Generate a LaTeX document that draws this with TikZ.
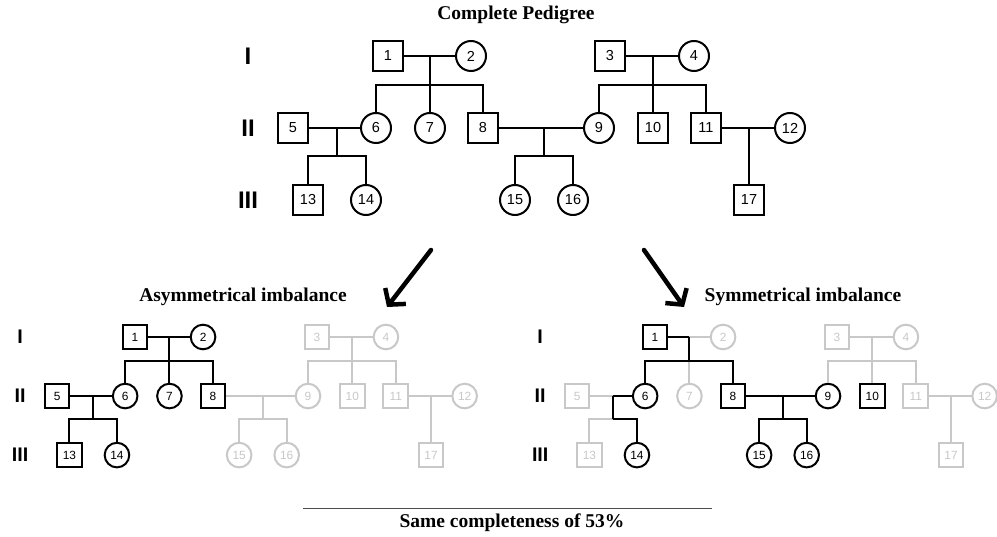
\documentclass[tikz,border=0pt]{standalone}
\usepackage{fontspec}
\setmainfont{Liberation Serif}
\setsansfont{Liberation Sans}
\usetikzlibrary{arrows.meta}
\definecolor{fade}{RGB}{200,200,200}
\newif\iffadepass
\newcommand\fadeset[2]{\foreach \z in {#2}{\expandafter\xdef\csname pg@#1-\z\endcsname{}}}
\tikzset{
  person/.style={draw, line width=2pt, inner sep=0pt, text=black,
    font=\sffamily\fontsize{14.5}{14.5}\selectfont},
  male/.style={person, rectangle, minimum size=30pt},
  female/.style={person, circle, minimum size=30pt},
  ln/.style={line width=2pt},
  gen/.style={font=\sffamily\bfseries\fontsize{24}{24}\selectfont, inner sep=0pt},
  faded/.style={color=fade, text=fade},
  c/.code={\ifcsname pg@#1\endcsname\pgfkeysalso{faded}\fi},
  cl/.code={\ifcsname pg@#1\endcsname
      \iffadepass\pgfkeysalso{faded}\else\pgfkeysalso{draw=none}\fi
    \else
      \iffadepass\pgfkeysalso{draw=none}\fi
    \fi},
  title/.style={font=\bfseries\fontsize{19.5}{20}\selectfont, inner sep=0pt},
  bigarrow/.style={line width=4.5pt, line cap=round, -{Straight Barb[length=11pt,width=26pt]}},
}
\newcommand\pednodes[1]{%
 \node[gen] (#1-gI) at (248,56) {I};
 \node[gen] (#1-gII) at (248,128) {II};
 \node[gen] (#1-gIII) at (248,200) {III};
 \node[male,c=#1-n1] (#1-1) at (388,56) {1};
 \node[female,c=#1-n2] (#1-2) at (471,56) {2};
 \node[male,c=#1-n3] (#1-3) at (610,56) {3};
 \node[female,c=#1-n4] (#1-4) at (694,56) {4};
 \node[male,c=#1-n5] (#1-5) at (293,128) {5};
 \node[female,c=#1-n6] (#1-6) at (376,128) {6};
 \node[female,c=#1-n7] (#1-7) at (430,128) {7};
 \node[male,c=#1-n8] (#1-8) at (483,128) {8};
 \node[female,c=#1-n9] (#1-9) at (599,128) {9};
 \node[male,c=#1-n10] (#1-10) at (653,128) {10};
 \node[male,c=#1-n11] (#1-11) at (706,128) {11};
 \node[female,c=#1-n12] (#1-12) at (790,128) {12};
 \node[male,c=#1-n13] (#1-13) at (308,200) {13};
 \node[female,c=#1-n14] (#1-14) at (366,200) {14};
 \node[female,c=#1-n15] (#1-15) at (515,200) {15};
 \node[female,c=#1-n16] (#1-16) at (573,200) {16};
 \node[male,c=#1-n17] (#1-17) at (749,200) {17};
 \coordinate (#1-m12) at (430,56);
 \coordinate (#1-j12) at (430,85);
 \coordinate (#1-m34) at (653,56);
 \coordinate (#1-j34) at (653,85);
 \coordinate (#1-m56) at (337,128);
 \coordinate (#1-j56) at (337,156);
 \coordinate (#1-m89) at (544,128);
 \coordinate (#1-j89) at (544,156);
 \coordinate (#1-m1112) at (749,128);
}
\newcommand\pedlines[1]{%
 \draw[ln,cl=#1-m12a] (#1-1.east) -- (#1-m12);
 \draw[ln,cl=#1-m12b] (#1-m12) -- (#1-2.west);
 \draw[ln,cl=#1-d12] (#1-m12) -- (#1-j12);
 \draw[ln,cl=#1-s12a] (#1-6.north) |- (#1-j12);
 \draw[ln,cl=#1-s12b] (#1-8.north) |- (#1-j12);
 \draw[ln,cl=#1-v7] (#1-j12) -- (#1-7.north);
 \draw[ln,cl=#1-f34] (#1-3.east) -- (#1-4.west);
 \draw[ln,cl=#1-f34] (#1-m34) -- (#1-10.north);
 \draw[ln,cl=#1-f34] (#1-9.north) |- (#1-j34) -| (#1-11.north);
 \draw[ln,cl=#1-m56a] (#1-5.east) -- (#1-m56);
 \draw[ln,cl=#1-m56b] (#1-m56) -- (#1-6.west);
 \draw[ln,cl=#1-d56] (#1-m56) -- (#1-j56);
 \draw[ln,cl=#1-s56a] (#1-13.north) |- (#1-j56);
 \draw[ln,cl=#1-s56b] (#1-14.north) |- (#1-j56);
 \draw[ln,cl=#1-f89] (#1-8.east) -- (#1-9.west);
 \draw[ln,cl=#1-f89] (#1-m89) -- (#1-j89);
 \draw[ln,cl=#1-f89] (#1-15.north) |- (#1-j89) -| (#1-16.north);
 \draw[ln,cl=#1-f1112] (#1-11.east) -- (#1-12.west);
 \draw[ln,cl=#1-f1112] (#1-m1112) -- (#1-17.north);
}
\newcommand\pedtree[1]{\pednodes{#1}\fadepasstrue\pedlines{#1}\fadepassfalse\pedlines{#1}}
\begin{document}
\begin{tikzpicture}[x=1pt,y=-1pt]
\fill[white] (0,0) rectangle (997,537);
\useasboundingbox (0,0) rectangle (997,537);
\fadeset{A}{n3,n4,n9,n10,n11,n12,n15,n16,n17,f34,f89,f1112}
\fadeset{S}{n2,n3,n4,n5,n7,n11,n12,n13,n17,m12b,v7,m56a,s56a,f34,f1112}
\node[title] (t0) at (516,15) {Complete Pedigree};
\pedtree{T}
\begin{scope}[shift={(135,337)}, scale=0.82, shift={(-388,-56)}, transform shape]
\pedtree{A}
\end{scope}
\begin{scope}[shift={(655,337)}, scale=0.82, shift={(-388,-56)}, transform shape]
\pedtree{S}
\end{scope}
\node[title] (t1) at (243,297) {Asymmetrical imbalance};
\node[title] (t2) at (803,297) {Symmetrical imbalance};
\coordinate (la1) at (431,250);
\coordinate (la2) at (387,307);
\coordinate (ra1) at (644,250);
\coordinate (ra2) at (684,307);
\draw[bigarrow] (la1) -- (la2);
\draw[bigarrow] (ra1) -- (ra2);
\coordinate (r1) at (303,508);
\coordinate (r2) at (712,508);
\draw[line width=1pt, color=black!70] (r1) -- (r2);
\node[title] (t3) at (512,523) {Same completeness of 53\%};
\end{tikzpicture}
\end{document}
